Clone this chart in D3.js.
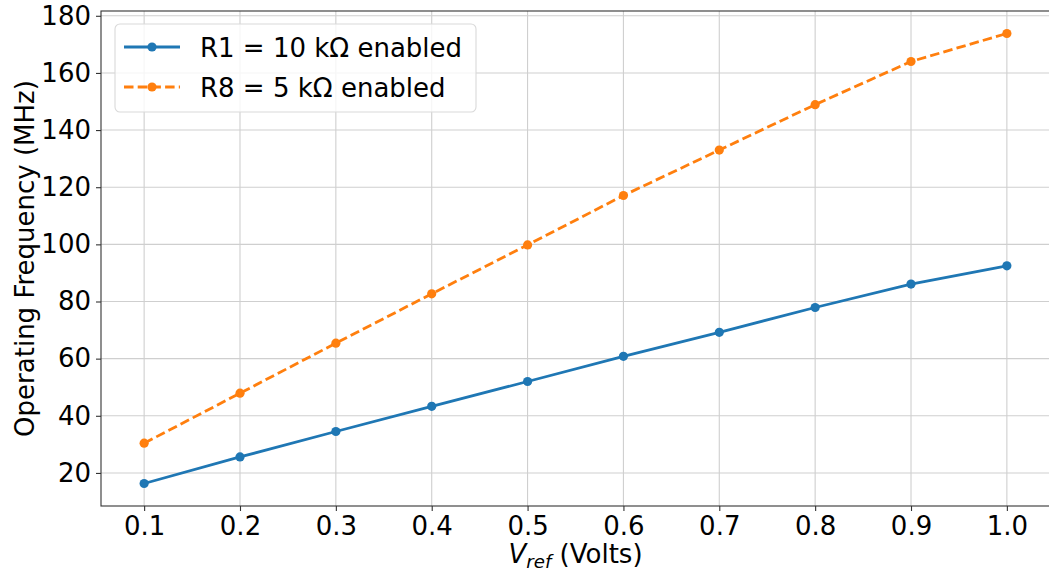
<!DOCTYPE html>
<html>
<head>
<meta charset="utf-8">
<script src="https://cdn.jsdelivr.net/npm/d3@7"></script>
<style>
  html, body { margin: 0; padding: 0; background: #fff; }
  svg { display: block; font-family: 'DejaVu Sans', sans-serif; }
</style>
</head>
<body>
<div id="chart"></div>
<script>
// -------- Data --------
const vref = [0.1, 0.2, 0.3, 0.4, 0.5, 0.6, 0.7, 0.8, 0.9, 1.0];
const r1Freq = [16.3, 25.6, 34.5, 43.3, 52.0, 60.8, 69.2, 77.9, 86.1, 92.5];
const r8Freq = [30.4, 47.9, 65.4, 82.7, 99.8, 117.1, 133.0, 148.9, 164.0, 173.8];
const xTicks = [0.1, 0.2, 0.3, 0.4, 0.5, 0.6, 0.7, 0.8, 0.9, 1.0];
const yTicks = [20, 40, 60, 80, 100, 120, 140, 160, 180];
const seriesNames = ['R1 = 10 k\u03A9 enabled', 'R8 = 5 k\u03A9 enabled'];

// -------- Dimensions --------
const svgWidth = 1049;
const svgHeight = 575;
const margin = { top: 11, right: -1, bottom: 69, left: 101 };
const width = svgWidth - margin.left - margin.right;
const height = svgHeight - margin.top - margin.bottom;
const fontSize = 26;

const svg = d3.select('#chart')
  .append('svg')
    .attr('width', svgWidth)
    .attr('height', svgHeight);

const ctr = svg.append('g')
    .attr('transform', `translate(${margin.left},${margin.top})`);

// -------- Scales (matplotlib-style 5% margins) --------
const xExt = d3.extent(vref);
const xPad = (xExt[1] - xExt[0]) * 0.05;
const xScale = d3.scaleLinear()
  .domain([xExt[0] - xPad, xExt[1] + xPad])
  .range([0, width]);

const allY = r1Freq.concat(r8Freq);
const yExt = d3.extent(allY);
const yPad = (yExt[1] - yExt[0]) * 0.05;
const yScale = d3.scaleLinear()
  .domain([yExt[0] - yPad, yExt[1] + yPad])
  .range([height, 0]);

// -------- Grid --------
const grid = ctr.append('g').attr('class', 'grid');
grid.selectAll('line.gx')
  .data(xTicks)
  .join('line')
    .attr('class', 'gx')
    .attr('x1', d => xScale(d)).attr('x2', d => xScale(d))
    .attr('y1', 0).attr('y2', height)
    .attr('stroke', '#cfcfcf').attr('stroke-width', 1.1);
grid.selectAll('line.gy')
  .data(yTicks)
  .join('line')
    .attr('class', 'gy')
    .attr('x1', 0).attr('x2', width)
    .attr('y1', d => yScale(d)).attr('y2', d => yScale(d))
    .attr('stroke', '#cfcfcf').attr('stroke-width', 1.1);

// -------- Axes --------
const xAxis = d3.axisBottom(xScale)
  .tickValues(xTicks)
  .tickFormat(d3.format('.1f'))
  .tickSize(5)
  .tickPadding(6)
  .tickSizeOuter(0);
const xAxisG = ctr.append('g')
    .attr('transform', `translate(0,${height})`)
    .call(xAxis);

const yAxis = d3.axisLeft(yScale)
  .tickValues(yTicks)
  .tickFormat(d3.format('d'))
  .tickSize(5)
  .tickPadding(5)
  .tickSizeOuter(0);
const yAxisG = ctr.append('g').call(yAxis);

[xAxisG, yAxisG].forEach(g => {
  g.select('.domain').remove();
  g.selectAll('.tick line').attr('stroke', '#333').attr('stroke-width', 1.1);
  g.selectAll('.tick text')
    .attr('fill', '#000')
    .style('font-size', fontSize + 'px')
    .style('font-family', "'DejaVu Sans', sans-serif");
});

// spines
ctr.append('rect')
  .attr('x', 0).attr('y', 0)
  .attr('width', width).attr('height', height)
  .attr('fill', 'none')
  .attr('stroke', '#333')
  .attr('stroke-width', 1.1);

// -------- Lines --------
const series = [
  { name: seriesNames[0], values: r1Freq, color: '#1f77b4', dash: null },
  { name: seriesNames[1], values: r8Freq, color: '#ff7f0e', dash: '9.5,4.2' }
];

const line = d3.line()
  .x((d, i) => xScale(vref[i]))
  .y(d => yScale(d));

series.forEach(s => {
  const g = ctr.append('g');
  g.append('path')
    .datum(s.values)
    .attr('d', line)
    .attr('fill', 'none')
    .attr('stroke', s.color)
    .attr('stroke-width', 2.8)
    .attr('stroke-dasharray', s.dash);
  g.selectAll('circle')
    .data(s.values)
    .join('circle')
      .attr('cx', (d, i) => xScale(vref[i]))
      .attr('cy', d => yScale(d))
      .attr('r', 4.6)
      .attr('fill', s.color);
});

// -------- Axis Labels --------
svg.append('text')
  .attr('transform', `translate(${margin.left - 67},${margin.top + height / 2}) rotate(-90)`)
  .attr('text-anchor', 'middle')
  .style('font-size', fontSize + 'px')
  .text('Operating Frequency (MHz)');

const xLabel = svg.append('text')
  .attr('x', margin.left + width / 2)
  .attr('y', 563)
  .attr('text-anchor', 'middle')
  .style('font-size', fontSize + 'px');
xLabel.append('tspan').style('font-style', 'italic').text('V');
xLabel.append('tspan').style('font-style', 'italic')
  .style('font-size', (fontSize * 0.7) + 'px')
  .attr('dy', 5).text('ref');
xLabel.append('tspan').attr('dy', -5).text(' (Volts)');

// -------- Legend --------
const legend = svg.append('g')
  .attr('transform', 'translate(115,24)');

legend.append('rect')
  .attr('width', 361)
  .attr('height', 88)
  .attr('rx', 5)
  .attr('fill', '#fff')
  .attr('fill-opacity', 0.8)
  .attr('stroke', '#d9d9d9')
  .attr('stroke-width', 1.1);

legend.selectAll('g.legend-item')
  .data(series)
  .join('g')
    .attr('class', 'legend-item')
    .attr('transform', (d, i) => `translate(0,${23 + i * 40})`)
  .call(g => {
    g.append('line')
      .attr('x1', 9).attr('x2', 65)
      .attr('stroke', d => d.color)
      .attr('stroke-width', 2.8)
      .attr('stroke-dasharray', d => d.dash);
    g.append('circle')
      .attr('cx', 37).attr('r', 4.6)
      .attr('fill', d => d.color);
    g.append('text')
      .attr('x', 85)
      .attr('y', 10)
      .attr('fill', '#000')
      .style('font-size', fontSize + 'px')
      .text(d => d.name);
  });
</script>
</body>
</html>
